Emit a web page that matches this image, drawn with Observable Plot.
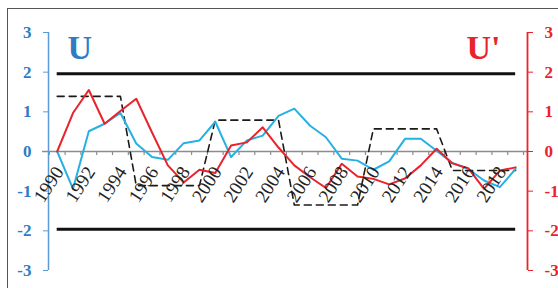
<!DOCTYPE html>
<html><head><meta charset="utf-8">
<script src="https://cdn.jsdelivr.net/npm/d3@7"></script>
<script src="https://cdn.jsdelivr.net/npm/@observablehq/plot@0.6"></script>
<style>
html,body{margin:0;padding:0;background:#fff;overflow:hidden}
#wrap{position:relative;width:558px;height:288px;overflow:hidden}
#border{position:absolute;left:7px;top:8px;width:600px;height:300px;border:1.5px solid #555;pointer-events:none;box-sizing:border-box}
#chart{position:absolute;left:0;top:0}
#chart svg, #chart svg text{font-family:"Liberation Serif","DejaVu Serif","Liberation Sans",sans-serif !important}
</style></head><body>
<div id="wrap"><div id="chart"></div><div id="border"></div></div>
<script>
const years = [1990,1991,1992,1993,1994,1995,1996,1997,1998,1999,2000,2001,2002,2003,2004,2005,2006,2007,2008,2009,2010,2011,2012,2013,2014,2015,2016,2017,2018,2019];
const labelYears = [1990,1992,1994,1996,1998,2000,2002,2004,2006,2008,2010,2012,2014,2016,2018];
const uValues = [0,-0.94,0.51,0.70,0.97,0.20,-0.14,-0.21,0.21,0.28,0.75,-0.14,0.28,0.40,0.90,1.08,0.65,0.36,-0.18,-0.23,-0.46,-0.25,0.32,0.32,0.02,-0.29,-0.44,-0.73,-0.90,-0.44];
const uPrimeValues = [0,0.97,1.55,0.70,1.02,1.33,0.48,-0.35,-0.78,-0.46,-0.54,0.15,0.23,0.61,0.10,-0.35,-0.65,-0.92,-0.31,-0.63,-0.69,-0.83,-0.68,-0.35,0.07,-0.30,-0.42,-0.94,-0.48,-0.40];
const trendValues = [1.39,1.39,1.39,1.39,1.39,-0.86,-0.86,-0.86,-0.86,-0.86,0.79,0.79,0.79,0.79,0.79,-1.35,-1.35,-1.35,-1.35,-1.35,0.57,0.57,0.57,0.57,0.57,-0.48,-0.48,-0.48,-0.48,-0.48];
const yTicks = [-3,-2,-1,0,1,2,3];
const critical = [1.96,-1.96];
const seriesNames = ["U","U'"];

const BLUE_AX = "#2f7cc2", BLUE_LINE = "#27b0e3", RED = "#e8232b";
const xDomain = [1989.45, 2019.75];
const last = years.length - 1;
const tableU = years.map((year,i)=>({year, value: uValues[i]}));
const tableUp = years.map((year,i)=>({year, value: uPrimeValues[i]}));
const tableTrend = years.map((year,i)=>({year, value: trendValues[i]}));
const boundaries = [...years.map(y=>y-0.5), years[last]+0.5];

const chart = Plot.plot({
  width: 558, height: 288,
  marginTop: 32, marginBottom: 18, marginLeft: 48, marginRight: 31,
  x: {domain: xDomain, axis: null, label: null},
  y: {domain: [yTicks[0], yTicks[yTicks.length-1]], axis: null, label: null},
  style: {background: "transparent"},
  marks: [
    Plot.ruleY([0], {stroke: "#8c8c8c", strokeWidth: 1.6, insetLeft: -6}),
    Plot.ruleX(boundaries, {x: d=>d, y1: ()=>0, y2: ()=>0, insetBottom: -4, stroke: "#8c8c8c", strokeWidth: 1.2}),
    Plot.ruleY(critical, {y: d=>d, x1: ()=>years[0], x2: ()=>years[last], stroke: "#111", strokeWidth: 3}),
    Plot.ruleX([xDomain[0]], {x: d=>d, y1: ()=>yTicks[0], y2: ()=>yTicks[yTicks.length-1], stroke: "#5b9bd5", strokeWidth: 1.5}),
    Plot.ruleX([xDomain[1]], {x: d=>d, y1: ()=>yTicks[0], y2: ()=>yTicks[yTicks.length-1], stroke: RED, strokeWidth: 1.8}),
    Plot.axisY({anchor: "left", label: null, ticks: yTicks, tickFormat: d=>String(d), tickSize: 5, tickPadding: 12, stroke: "#5b9bd5", fill: BLUE_AX, fontSize: 17, fontWeight: "bold"}),
    Plot.axisY({anchor: "right", label: null, ticks: yTicks, tickFormat: d=>String(d), tickSize: 5, tickPadding: 12, stroke: RED, fill: RED, fontSize: 17, fontWeight: "bold"}),
    Plot.line(tableTrend, {x: "year", y: "value", stroke: "#1a1a1a", strokeWidth: 1.6, strokeDasharray: "7,5"}),
    Plot.line(tableU, {x: "year", y: "value", stroke: BLUE_LINE, strokeWidth: 2}),
    Plot.line(tableUp, {x: "year", y: "value", stroke: RED, strokeWidth: 2}),
    Plot.text(labelYears, {x: d=>d, y: ()=>0, text: d=>String(d), rotate: -57, textAnchor: "end", dx: 2, dy: 17, fontSize: 19, fill: "#222"}),
    Plot.text([seriesNames[0]], {frameAnchor: "top-left", text: d=>d, dx: 19, dy: 2, lineAnchor: "top", textAnchor: "start", fontSize: 34, fontWeight: "bold", fill: BLUE_AX}),
    Plot.text([seriesNames[1]], {frameAnchor: "top-right", text: d=>d, dx: -27, dy: 2, lineAnchor: "top", textAnchor: "end", fontSize: 34, fontWeight: "bold", fill: RED})
  ]
});
document.getElementById("chart").appendChild(chart);
</script>
</body></html>
